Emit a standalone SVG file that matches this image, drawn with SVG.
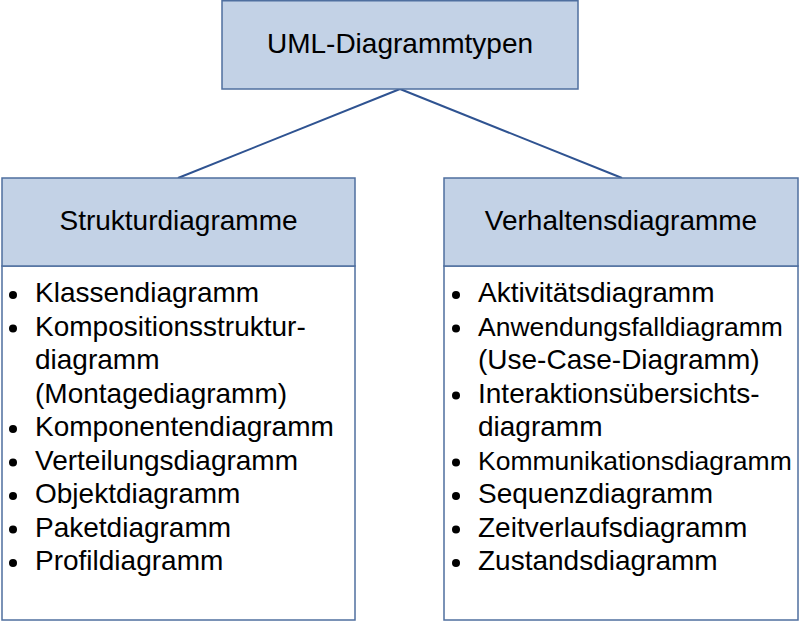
<svg xmlns="http://www.w3.org/2000/svg" width="800" height="622" viewBox="0 0 800 622">
<style>
.hdr{fill:#c3d2e6;stroke:#4f6f9f;stroke-width:1.5}
.body{fill:#ffffff;stroke:#4f6f9f;stroke-width:1.5}
.t{font-family:"Liberation Sans",Arial,sans-serif;font-size:28px;fill:#000}
.s{font-size:26.5px}
.c{text-anchor:middle}
.b{fill:#000}
.conn{stroke:#2f5391;stroke-width:2;fill:none}
</style>
<rect width="800" height="622" fill="#fff"/>
<g id="connectors">
<line class="conn" x1="400" y1="89" x2="178" y2="178"/>
<line class="conn" x1="400" y1="89" x2="622" y2="178"/>
</g>
<g id="root">
<rect class="hdr" x="222" y="0.75" width="356" height="88.25"/>
<text class="t c" x="400" y="53">UML-Diagrammtypen</text>
</g>
<g id="struktur">
<rect class="body" x="2" y="266" width="353" height="354"/>
<rect class="hdr" x="2" y="178" width="353" height="88"/>
<text class="t c" x="178.5" y="230">Strukturdiagramme</text>
<g class="b">
<circle cx="13" cy="295" r="4"/>
<circle cx="13" cy="328.5" r="4"/>
<circle cx="13" cy="429" r="4"/>
<circle cx="13" cy="462.5" r="4"/>
<circle cx="13" cy="496" r="4"/>
<circle cx="13" cy="529.5" r="4"/>
<circle cx="13" cy="563" r="4"/>
</g>
<text class="t" x="35" y="302">Klassendiagramm</text>
<text class="t" x="35" y="335.5">Kompositionsstruktur-</text>
<text class="t" x="35" y="369">diagramm</text>
<text class="t" x="35" y="402.5">(Montagediagramm)</text>
<text class="t" x="35" y="436">Komponentendiagramm</text>
<text class="t" x="35" y="469.5">Verteilungsdiagramm</text>
<text class="t" x="35" y="503">Objektdiagramm</text>
<text class="t" x="35" y="536.5">Paketdiagramm</text>
<text class="t" x="35" y="570">Profildiagramm</text>
</g>
<g id="verhalten">
<rect class="body" x="444" y="266" width="354" height="354"/>
<rect class="hdr" x="444" y="178" width="354" height="88"/>
<text class="t c" x="621" y="230">Verhaltensdiagramme</text>
<g class="b">
<circle cx="456" cy="295" r="4"/>
<circle cx="456" cy="328.5" r="4"/>
<circle cx="456" cy="395.5" r="4"/>
<circle cx="456" cy="462.5" r="4"/>
<circle cx="456" cy="496" r="4"/>
<circle cx="456" cy="529.5" r="4"/>
<circle cx="456" cy="563" r="4"/>
</g>
<text class="t" x="478" y="302">Aktivitätsdiagramm</text>
<text class="t s" x="478" y="335.5">Anwendungsfalldiagramm</text>
<text class="t" x="478" y="369">(Use-Case-Diagramm)</text>
<text class="t" x="478" y="402.5">Interaktionsübersichts-</text>
<text class="t" x="478" y="436">diagramm</text>
<text class="t s" x="478" y="469.5">Kommunikationsdiagramm</text>
<text class="t" x="478" y="503">Sequenzdiagramm</text>
<text class="t" x="478" y="536.5">Zeitverlaufsdiagramm</text>
<text class="t" x="478" y="570">Zustandsdiagramm</text>
</g>
</svg>
